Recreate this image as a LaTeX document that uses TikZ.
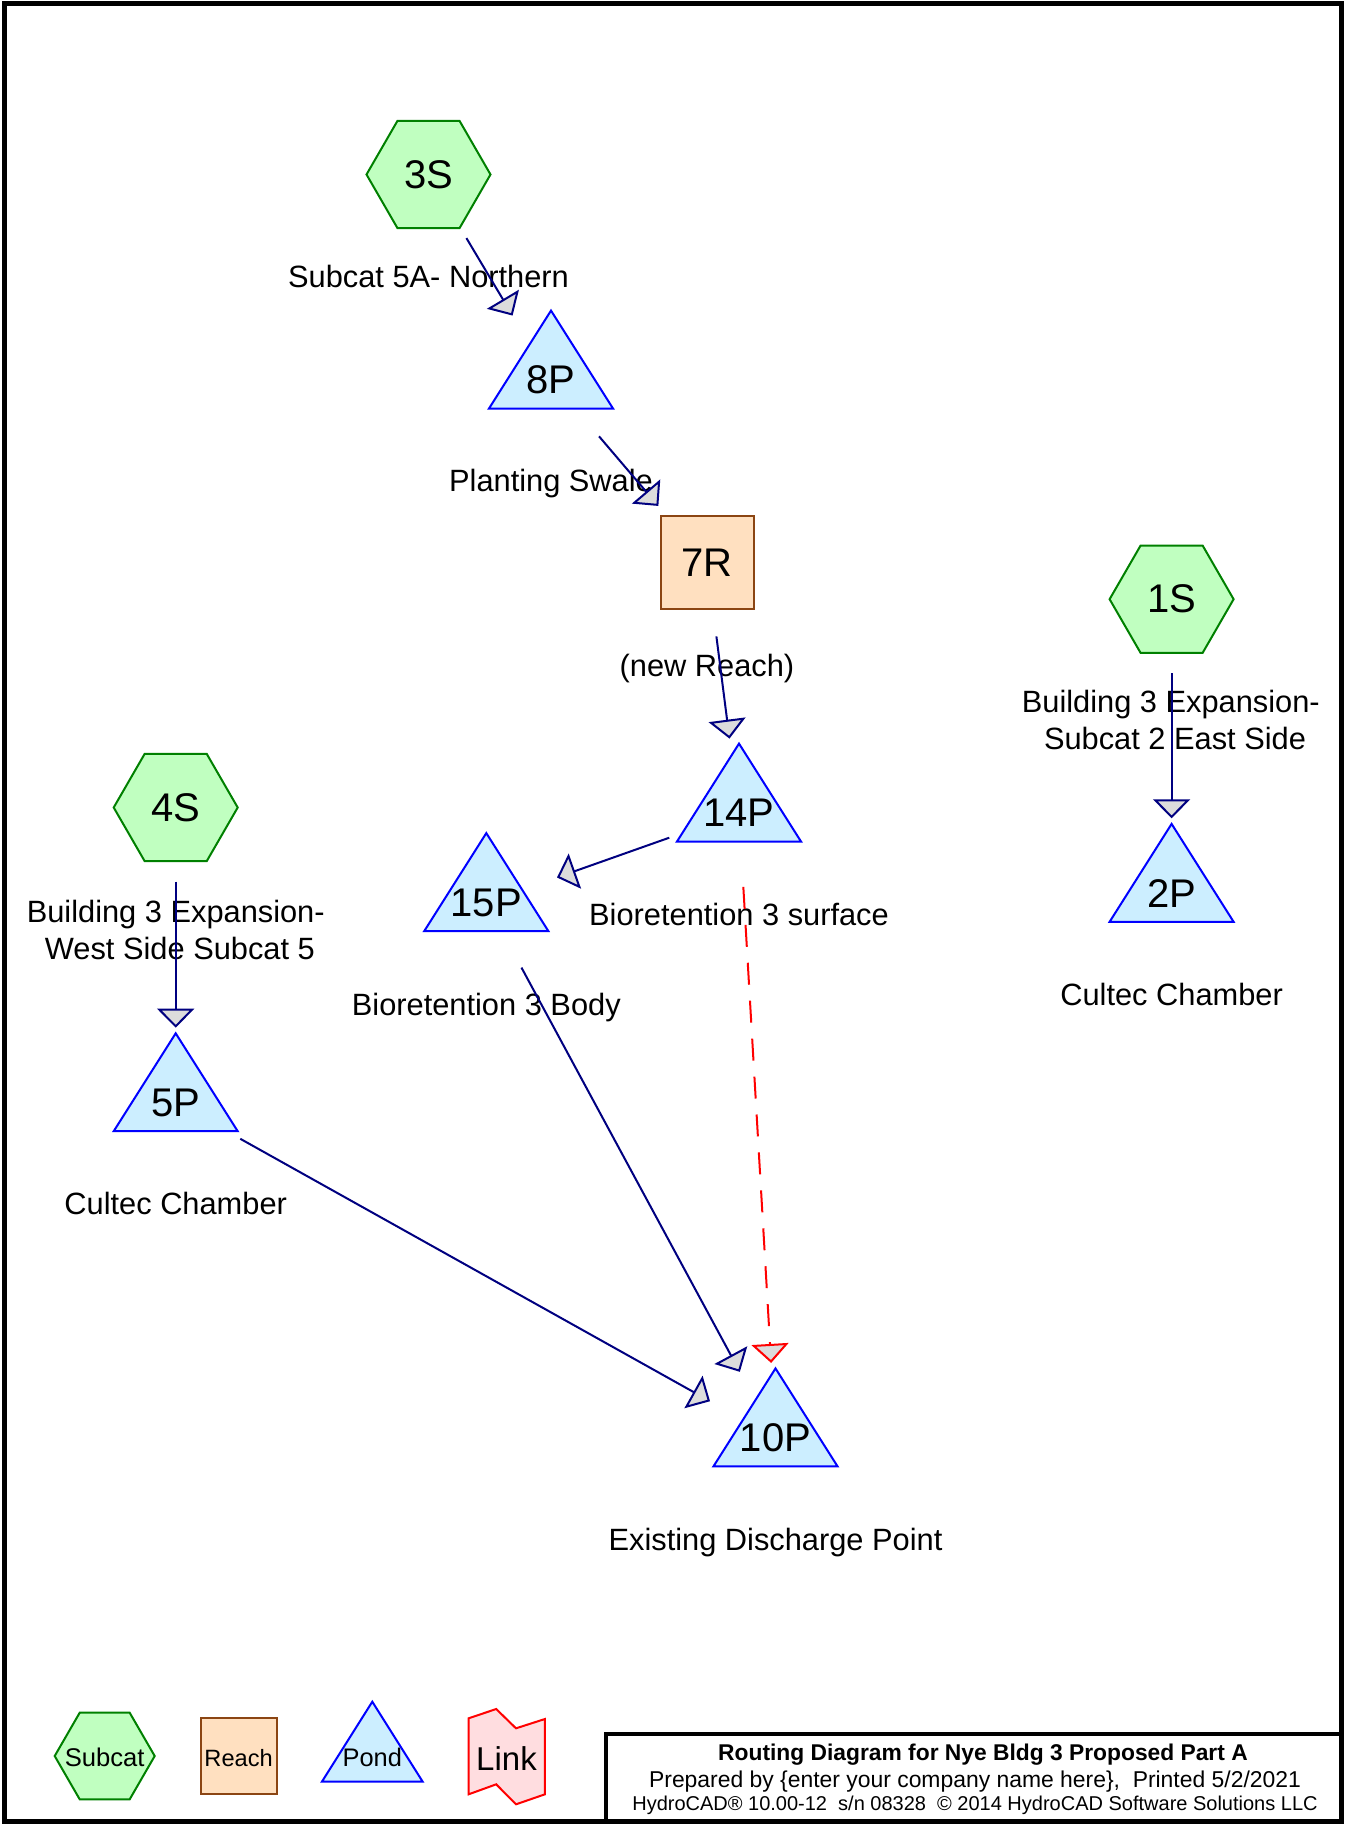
\documentclass[tikz,border=0pt]{standalone}
\usepackage{fontspec}
\setmainfont{Liberation Sans}
\usetikzlibrary{arrows.meta,backgrounds}
\definecolor{subfill}{HTML}{C0FFC0}
\definecolor{subline}{HTML}{008000}
\definecolor{pondfill}{HTML}{CCEEFF}
\definecolor{pondline}{HTML}{0000FF}
\definecolor{reachfill}{HTML}{FFE0C0}
\definecolor{reachline}{HTML}{8B4513}
\definecolor{linkfill}{HTML}{FFDDE0}
\definecolor{linkline}{HTML}{FF0000}
\definecolor{flow}{HTML}{000080}
\definecolor{tipfill}{HTML}{DCDCDC}
\begin{document}
\begin{tikzpicture}[x=1pt,y=-1pt,
  idtxt/.style={font=\fontsize{40}{48}\selectfont, inner sep=0pt},
  lbl/.style={font=\fontsize{30.8}{37}\selectfont, inner sep=0pt, anchor=base, align=center},
  lgtxt/.style={inner sep=0pt, anchor=base},
  subcatshape/.style={fill=subfill, draw=subline, line width=2pt},
  pondshape/.style={fill=pondfill, draw=pondline, line width=2pt},
  reachshape/.style={fill=reachfill, draw=reachline, line width=2pt},
  linkshape/.style={fill=linkfill, draw=linkline, line width=2pt},
  flowarrow/.style={draw=flow, line width=2pt, shorten <=74pt, shorten >=75pt,
    -{Triangle[length=19pt,width=37pt,fill=tipfill]}},
  linkarrow/.style={draw=red, line width=2pt, shorten <=74pt, shorten >=75pt,
    dash pattern=on 22pt off 16pt, -{Triangle[length=19pt,width=37pt,fill=tipfill]}},
  titletxt/.style={inner sep=0pt, anchor=base}
]
\useasboundingbox (0,0) rectangle (1345,1825);

% ---------- graph nodes ----------
\node[idtxt] (3S)  at (428.5,174.5)  {3S};
\node[idtxt] (8P)  at (551,380)      {8P};
\node[idtxt] (7R)  at (707,563)      {7R};
\node[idtxt] (1S)  at (1171.6,599.2) {1S};
\node[idtxt] (14P) at (739,813)      {14P};
\node[idtxt] (15P) at (486.3,902.5)  {15P};
\node[idtxt] (4S)  at (175.7,807.5)  {4S};
\node[idtxt] (2P)  at (1171.6,893.3) {2P};
\node[idtxt] (5P)  at (175.7,1102.7) {5P};
\node[idtxt] (10P) at (775.5,1437.8) {10P};

\begin{scope}[on background layer]
  \fill[white] (0,0) rectangle (1345,1825);
  \foreach \n in {3S,1S,4S}
    \filldraw[subcatshape, shift={(\n.center)}] (62,0) -- (31,53.7) -- (-31,53.7) -- (-62,0) -- (-31,-53.7) -- (31,-53.7) -- cycle;
  \foreach \n in {8P,14P,15P,2P,5P,10P}
    \filldraw[pondshape, shift={(\n.center)}] (0,-69.4) -- (62,28.5) -- (-62,28.5) -- cycle;
  \filldraw[reachshape, shift={(7R.center)}] (-46.5,-47.5) rectangle (46.5,45.5);
\end{scope}

% ---------- labels ----------
\node[lbl] (l3S)  at (428.5,287.3)  {Subcat 5A- Northern};
\node[lbl] (l8P)  at (551,491.7)    {Planting Swale};
\node[lbl] (l7R)  at (707,676)      {(new Reach)};
\node[lbl] (l1S)  at (1175,749.5)   {Building 3 Expansion-\kern8.3pt\\Subcat 2 East Side};
\node[lbl] (l2P)  at (1171.6,1005.3){Cultec Chamber};
\node[lbl] (l4S)  at (179.9,959.5)  {Building 3 Expansion-\kern8.3pt\\West Side Subcat 5};
\node[lbl] (l14P) at (739,925)      {Bioretention 3 surface};
\node[lbl] (l15P) at (486.3,1015)   {Bioretention 3 Body};
\node[lbl] (l5P)  at (175.7,1214.7) {Cultec Chamber};
\node[lbl] (l10P) at (775.5,1550)   {Existing Discharge Point};

% ---------- connectors ----------
\draw[flowarrow] (3S.center) -- (8P.center);
\draw[flowarrow] (8P.center) -- (7R.center);
\draw[flowarrow] (7R.center) -- (14P.center);
\draw[flowarrow] (14P.center) -- (15P.center);
\draw[flowarrow] (1S.center) -- (2P.center);
\draw[flowarrow] (4S.center) -- (5P.center);
\draw[flowarrow] (15P.center) -- (10P.center);
\draw[flowarrow] (5P.center) -- (10P.center);
\draw[linkarrow] (14P.center) -- (10P.center);

% ---------- legend ----------
\filldraw[subcatshape] (154.7,1756) -- (129.7,1799.3) -- (79.7,1799.3) -- (54.7,1756) -- (79.7,1712.7) -- (129.7,1712.7) -- cycle;
\node[lgtxt, font=\fontsize{25.6}{30}\selectfont] (lgsub) at (104.7,1766.7) {Subcat};
\filldraw[reachshape] (200.5,1718.3) rectangle (276.8,1794.3);
\node[lgtxt, font=\fontsize{23.6}{28}\selectfont] (lgreach) at (238.6,1766) {Reach};
\filldraw[pondshape] (372.3,1701.7) -- (422.7,1781.7) -- (321.9,1781.7) -- cycle;
\node[lgtxt, font=\fontsize{25.4}{30}\selectfont] (lgpond) at (372.3,1766.7) {Pond};
\filldraw[linkshape] (468.6,1718.3) -- (496.2,1709) -- (516,1728.3) -- (544.9,1719) -- (544.9,1794.3) -- (516,1804.3) -- (496.2,1784.3) -- (468.6,1794.3) -- cycle;
\node[lgtxt, font=\fontsize{33}{40}\selectfont] (lglink) at (506.5,1770) {Link};

% ---------- title block ----------
\draw[line width=4.5pt] (606,1823) -- (606,1734) -- (1342,1734);
\node[titletxt, font=\bfseries\fontsize{22.8}{27}\selectfont] (t1) at (983,1760) {Routing Diagram for Nye Bldg 3 Proposed Part A};
\node[titletxt, font=\fontsize{22.9}{27}\selectfont] (t2) at (975,1787) {Prepared by \{enter your company name here\},~ Printed 5/2/2021};
\node[titletxt, font=\fontsize{20}{24}\selectfont] (t3) at (975,1810) {HydroCAD® 10.00-12~ s/n 08328~ © 2014 HydroCAD Software Solutions LLC};

% ---------- outer frame ----------
\draw[line width=5pt] (4,4) rectangle (1341.5,1821.5);
\end{tikzpicture}
\end{document}
